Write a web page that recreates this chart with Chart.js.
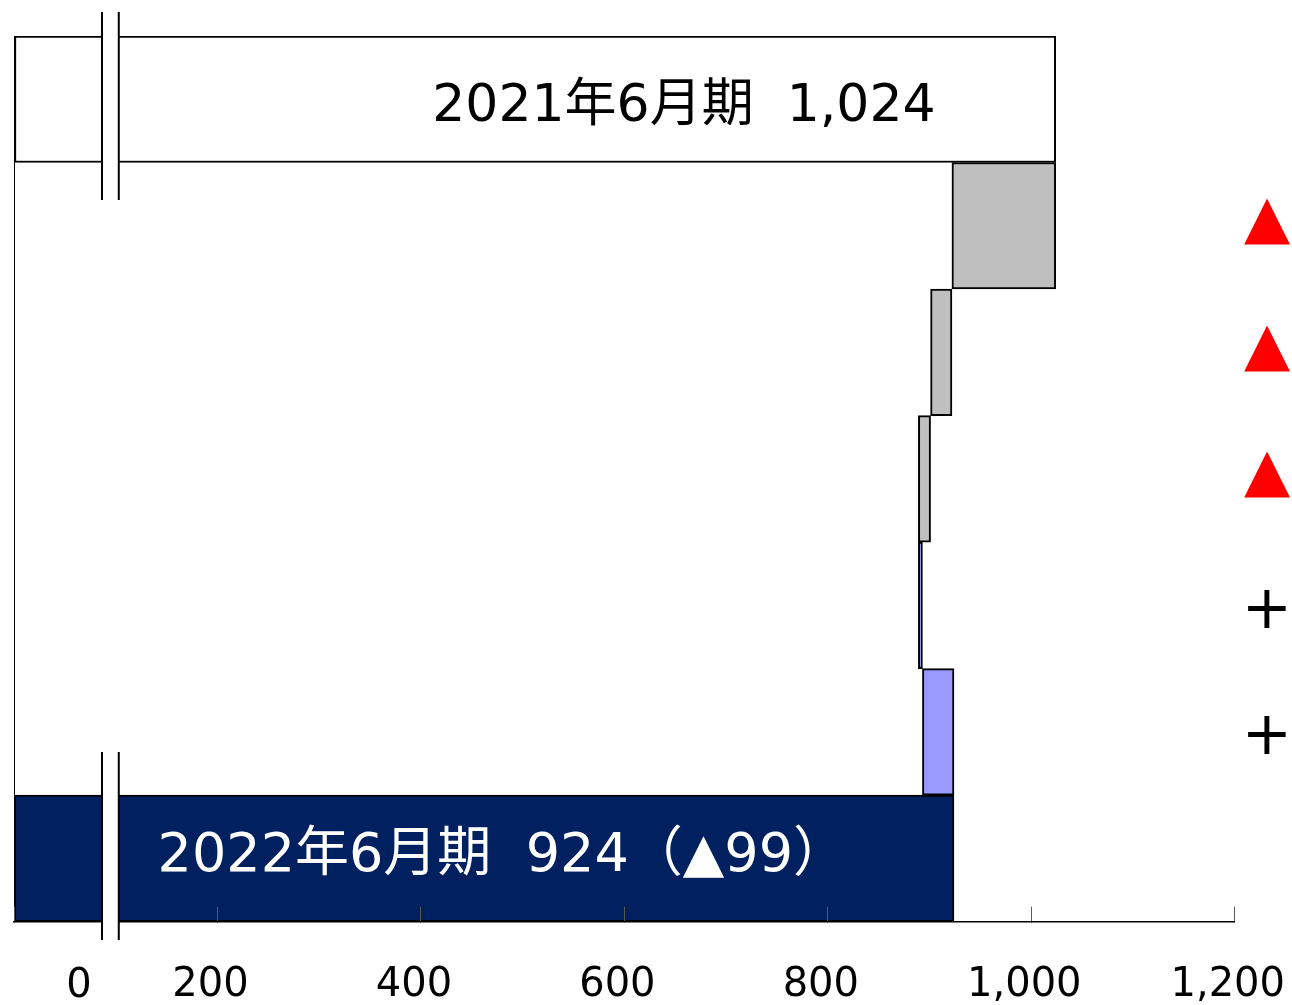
<!DOCTYPE html>
<html>
<head>
<meta charset="utf-8">
<script src="https://cdn.jsdelivr.net/npm/chart.js@4.4.1/dist/chart.umd.min.js"></script>
<style>
  body { margin: 0; background: #fff; }
  canvas { display: block; }
</style>
</head>
<body>
<canvas id="waterfall" width="1292" height="1005"></canvas>
<script>
  // data
  const categories = ["2021年6月期", "step1", "step2", "step3", "step4", "step5", "2022年6月期"];
  const startValue = 1024;
  const changes = [-102, -21, -12, 4, 31];
  const endValue = 924;
  const signs = ["", "▲", "▲", "▲", "+", "+", ""];
  const xTicks = [0, 200, 400, 600, 800, 1000, 1200];
  const topLabel = "2021年6月期  1,024";
  const bottomLabel = "2022年6月期  924（▲99）";

  // styles
  const barColors = ["#FFFFFF", "#BFBFBF", "#BFBFBF", "#BFBFBF", "#9999FF", "#9999FF", "#002060"];
  const signColors = ["#000", "#FF0000", "#FF0000", "#FF0000", "#000", "#000", "#000"];
  const FONT = '"DejaVu Sans", "Noto Sans CJK JP", sans-serif';

  //Build floating bars for the waterfall
  const buildRanges = () => {
    let ranges = [[0, startValue]];
    let level = startValue;
    changes.forEach((c) => {
      ranges.push([Math.min(level, level + c), Math.max(level, level + c)]);
      level += c;
    });
    ranges.push([0, endValue]);
    return ranges;
  };

  //Texts and axis-break marks drawn on top
  const overlay = {
    id: "overlay",
    afterDraw(chart) {
      const c = chart.ctx;
      const x = chart.scales.x;
      const y = chart.scales.y;
      c.save();

      // break marks
      const bx1 = x.getPixelForValue(86.5);
      const bx2 = x.getPixelForValue(103);
      [[12, 200], [752, 940]].forEach(([t, b]) => {
        c.fillStyle = "#fff";
        c.fillRect(bx1, t, bx2 - bx1, b - t);
        c.strokeStyle = "#000";
        c.lineWidth = 2;
        c.beginPath();
        c.moveTo(bx1, t); c.lineTo(bx1, b);
        c.moveTo(bx2, t); c.lineTo(bx2, b);
        c.stroke();
      });

      // bar labels
      c.font = "52px " + FONT;
      c.textAlign = "center";
      c.textBaseline = "middle";
      c.fillStyle = "#000";
      c.fillText(topLabel, x.getPixelForValue(658.5), y.getPixelForValue(0) + 8);
      c.fillStyle = "#fff";
      c.font = "54px " + FONT;
      c.fillText(bottomLabel, x.getPixelForValue(480), y.getPixelForValue(6) - 1);

      // signs on the right
      c.font = "60px " + FONT;
      signs.forEach((s, i) => {
        if (!s) return;
        c.fillStyle = signColors[i];
        c.fillText(s, 1267, y.getPixelForValue(i) + (s === "+" ? 7 : -4));
      });

      // zero label, shifted past the break
      c.font = "40px " + FONT;
      c.fillStyle = "#000";
      c.fillText("0", 79, x.top + 65);
      c.restore();
    },
  };

  let chart;
  window.addEventListener("load", () => {
    const ctx = document.getElementById("waterfall");
    chart = new Chart(ctx, {
      type: "bar",
      data: {
        labels: categories,
        datasets: [
          {
            data: buildRanges(),
            backgroundColor: barColors,
            borderColor: "#000",
            borderWidth: 2,
            borderSkipped: false,
            categoryPercentage: 1,
            barPercentage: 1,
          },
        ],
      },
      options: {
        indexAxis: "y",
        responsive: false,
        animation: false,
        layout: { padding: { left: 14, top: 36, right: 57, bottom: -7 } },
        plugins: { legend: { display: false }, tooltip: { enabled: false } },
        scales: {
          x: {
            type: "linear",
            min: 0,
            max: 1200,
            afterBuildTicks: (s) => {
              s.ticks = xTicks.map((v) => ({ value: v }));
            },
            ticks: {
              labelOffset: -7,
              padding: 0,
              color: "#000",
              font: { family: FONT, size: 40, lineHeight: 1.317 },
              // blank first line pushes the numbers below the inward tick marks
              callback: (v) => (v === 0 ? "" : ["", v.toLocaleString("en-US")]),
            },
            grid: { z: 1, drawOnChartArea: false, drawTicks: true, tickLength: -15, color: "#595959", lineWidth: 1 },
            border: { z: 1, display: true, color: "#000", width: 1.5 },
          },
          y: {
            type: "category",
            offset: true,
            ticks: { display: false },
            grid: { display: false, drawTicks: false },
            border: { display: true, color: "#000", width: 1 },
          },
        },
      },
      plugins: [overlay],
    });
  });
</script>
</body>
</html>
